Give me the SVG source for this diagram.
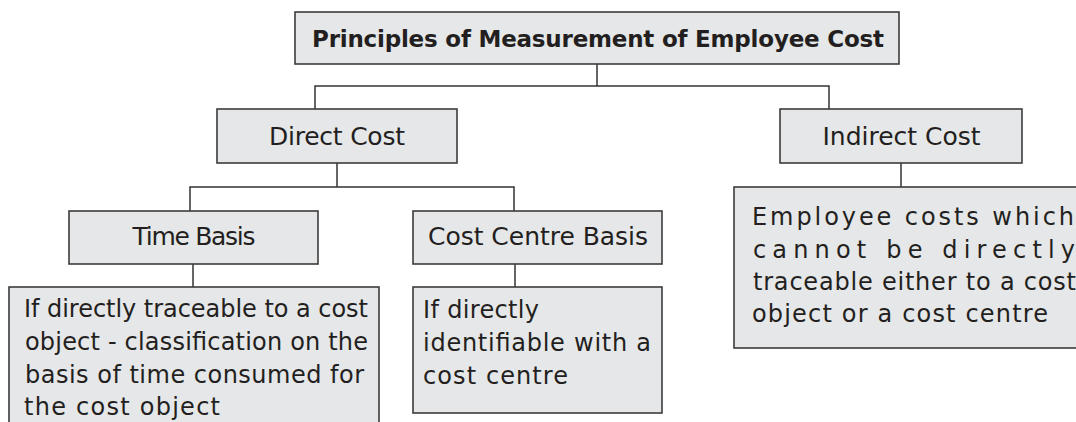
<svg xmlns="http://www.w3.org/2000/svg" width="1076" height="422" viewBox="0 0 1076 422">
<style>
.box{fill:#e6e7e8;stroke:#3c3c3c;stroke-width:1.6}
.ln{fill:none;stroke:#333;stroke-width:1.5}
text{font-family:"DejaVu Sans","Liberation Sans",sans-serif;fill:#231f20;font-size:24px}
.t{font-weight:bold;font-size:23px}
.l{font-size:25px}
.c{text-anchor:middle}
</style>
<rect width="1076" height="422" fill="#ffffff"/>
<g id="connectors">
<path class="ln" d="M597,64 V86 M315,109 V86 H829 V109"/>
<path class="ln" d="M337,163 V187 M190,211 V187 H514 V211"/>
<path class="ln" d="M901,163 V187"/>
<path class="ln" d="M193,264 V287"/>
<path class="ln" d="M515,264 V287"/>
</g>
<g id="title">
<rect class="box" x="295" y="12" width="604" height="52"/>
<text class="t c" x="598" y="47" textLength="572">Principles of Measurement of Employee Cost</text>
</g>
<g id="direct">
<rect class="box" x="217" y="109" width="240" height="54"/>
<text class="l c" x="337" y="145" textLength="136">Direct Cost</text>
</g>
<g id="indirect">
<rect class="box" x="780" y="109" width="242" height="54"/>
<text class="l c" x="901.5" y="145" textLength="158">Indirect Cost</text>
</g>
<g id="time">
<rect class="box" x="69" y="211" width="249" height="53"/>
<text class="l c" x="194" y="245" textLength="123">Time Basis</text>
</g>
<g id="centre">
<rect class="box" x="413" y="211" width="249" height="53"/>
<text class="l c" x="538" y="245" textLength="220">Cost Centre Basis</text>
</g>
<g id="time-desc">
<rect class="box" x="9" y="287" width="370" height="150"/>
<text x="24" y="317" textLength="344">If directly traceable to a cost</text>
<text x="25" y="350" textLength="343">object - classification on the</text>
<text x="25" y="383" textLength="339">basis of time consumed for</text>
<text x="24" y="415" textLength="196">the cost object</text>
</g>
<g id="centre-desc">
<rect class="box" x="413" y="287" width="249" height="126"/>
<text x="423" y="318" textLength="116">If directly</text>
<text x="423" y="351" textLength="228">identifiable with a</text>
<text x="423" y="384" textLength="145">cost centre</text>
</g>
<g id="indirect-desc">
<rect class="box" x="734" y="187" width="360" height="161"/>
<text x="752" y="225" textLength="322">Employee costs which</text>
<text x="753" y="258" textLength="322">cannot be directly</text>
<text x="753" y="290" textLength="323">traceable either to a cost</text>
<text x="752" y="322" textLength="296">object or a cost centre</text>
</g>
</svg>
